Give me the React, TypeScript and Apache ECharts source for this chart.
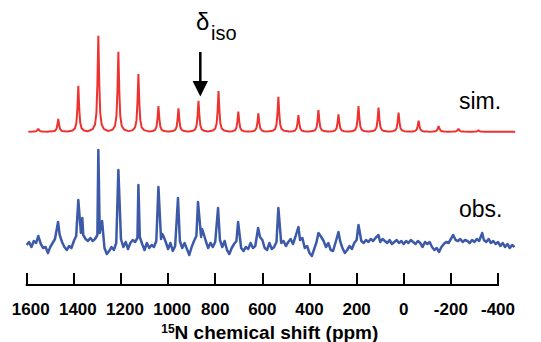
import React, { useEffect, useRef } from 'react';
import * as echarts from 'echarts';

// ---- axis ----
const xTickValues = [1600, 1400, 1200, 1000, 800, 600, 400, 200, 0, -200, -400];
const xMax = 1600;
const xAxisEnd = -400; // last tick / end of the drawn axis line
const dataXMin = -480; // spectra run a little past the last tick

// ---- simulated spectrum: spinning-sideband peak list (ppm, height) ----
const simPeakPpm = [1551, 1466, 1381, 1296, 1211, 1126, 1041, 956, 871, 786, 702, 617, 532, 447, 362, 277, 192, 107, 22, -63, -148, -232, -317];
const simPeakHeight = [3, 12.7, 46, 96, 80, 57.7, 25.7, 23.3, 31, 40.7, 20, 18.3, 35, 16.7, 21.7, 17.3, 25.7, 24, 19, 11, 5.7, 3, 1.3];
// line shape (ppm offset, fraction of peak height)
const lineShapeOffset = [40, 24, 14, 8, 4, 0, -4, -8, -14, -24, -40];
const lineShapeFraction = [0.01, 0.027, 0.075, 0.2, 0.5, 1, 0.5, 0.2, 0.075, 0.027, 0.01];
const simStartPpm = 1593;
const simEndPpm = -473;

// ---- observed spectrum ----
const obsNoiseStartPpm = 1600;
const obsNoiseStepPpm = 10;
const obsNoise = [
  0, 3, -2, 4, 2, 3, 1, -3, -2, -8,
  -2, 2, 6, 12, 10, 3, -2, -5, -1, -3,
  4, 9, 14, 12, 10, 6, 4, 7, 4, 6,
  10, 12, 8, -3, -9, -6, -2, -5, 2, 8,
  6, -2, 3, -4, 2, 5, 3, 7, 8, 1,
  -5, 2, -3, 0, -2, 4, 8, 6, 9, 3,
  -4, 2, -6, -1, 5, 4, -3, 2, -4, -10,
  -2, 4, 9, 10, 8, 12, 4, -3, 2, -2,
  3, 8, 5, -2, 4, -5, -9, -3, 1, 4,
  5, -3, -6, -2, -4, 2, -3, -1, 4, 8,
  5, -3, -5, 2, -4, -2, 3, 10, 2, 4,
  -1, 3, 6, 1, 8, 10, 5, 7, -3, -1,
  -8, -11, -4, 3, 6, 8, 4, -2, 2, -5,
  -6, 2, 6, 4, -3, -8, -5, -1, -4, 2,
  5, 8, 4, 2, 5, 3, 6, 4, 7, 5,
  3, 6, 4, 2, 5, 1, 3, 5, 2, 4,
  1, 4, 2, 5, 3, 1, 4, 2, -2, 3,
  1, 3, -2, -5, -3, -7, -2, 1, 3, 2,
  6, 8, 5, 4, 6, 3, 5, 4, 2, 5,
  3, 6, 4, 8, 5, 3, 6, 2, 4, 1,
  3, -1, 2, -2, 1, -3, 0, -2,
];
const obsPeakPpm = [1551, 1467, 1381, 1364, 1296, 1280, 1211, 1126, 1041, 1025, 958, 873, 856, 788, 703, 618, 532, 447, 362, 277, 192, 107, -210, -333];
const obsPeakHeight = [9, 23, 45, 27, 95, 24, 75, 60, 58, 11, 47, 43, 16, 37, 23, 17, 37, 18, 12, 13, 20, 10, 10, 12];

// ---- texts ----
const xAxisTitleSup = '15';
const xAxisTitle = 'N chemical shift (ppm)';
const simLabel = 'sim.';
const obsLabel = 'obs.';
const isoSymbol = 'δ';
const isoSub = 'iso';

const FONT = '"Liberation Sans", Arial, sans-serif';
const RED = '#ec3330';
const BLUE = '#3d5aa9';

// layout
const W = 541;
const H = 342;
const GRID_LEFT = 26.7;
const AXIS_RIGHT = 43; // right margin of the drawn axis line (at -400)
const GRID_TOP = 20;
const GRID_BOTTOM = 57;
const AXIS_W = W - GRID_LEFT - AXIS_RIGHT;
const GRID_RIGHT = AXIS_RIGHT - ((xAxisEnd - dataXMin) / (xMax - xAxisEnd)) * AXIS_W;
const AXIS_Y = H - GRID_BOTTOM;

function buildSim(): number[][] {
  const pts: number[][] = [[simStartPpm, 0]];
  simPeakPpm.forEach((c, i) => {
    lineShapeOffset.forEach((o, j) => {
      pts.push([c + o, simPeakHeight[i] * lineShapeFraction[j]]);
    });
  });
  pts.push([simEndPpm, 0]);
  return pts;
}

function buildObs(): number[][] {
  const pts: number[][] = [];
  obsNoise.forEach((v, i) => {
    const p = obsNoiseStartPpm - i * obsNoiseStepPpm;
    const near = obsPeakPpm.some((c) => Math.abs(c - p) < 4);
    if (!near) pts.push([p, v]);
  });
  obsPeakPpm.forEach((c, i) => pts.push([c, obsPeakHeight[i]]));
  pts.sort((a, b) => b[0] - a[0]);
  return pts;
}

export default function App() {
  const ref = useRef<HTMLDivElement>(null);
  useEffect(() => {
    if (!ref.current) return;
    const chart = echarts.init(ref.current, undefined, { renderer: 'svg' });
    chart.setOption({
      animation: false,
      backgroundColor: '#ffffff',
      grid: { left: GRID_LEFT, right: GRID_RIGHT, top: GRID_TOP, bottom: GRID_BOTTOM, containLabel: false, outerBoundsMode: 'none' },
      xAxis: {
        type: 'value',
        min: dataXMin,
        max: xMax,
        inverse: true,
        splitLine: { show: false },
        axisLine: { show: false, onZero: false },
        axisTick: { show: true, inside: true, length: 12, customValues: xTickValues, lineStyle: { color: '#000', width: 2 } },
        axisLabel: {
          customValues: xTickValues,
          margin: 16,
          color: '#000',
          fontSize: 17,
          fontWeight: 'bold',
          fontFamily: FONT,
          hideOverlap: false,
          formatter: (v: number) => (Math.abs(v) >= 1000 ? '{w|' + v + '}' : String(v)),
          rich: { w: { fontSize: 17, fontWeight: 'bold', fontFamily: FONT, color: '#000', padding: [0, 0, 0, 8] } },
        },
        name: '{sup|' + xAxisTitleSup + '}{n|' + xAxisTitle + '}',
        nameLocation: 'middle',
        nameGap: 33,
        nameTextStyle: {
          padding: [0, 4, 0, 0],
          rich: {
            sup: { fontSize: 12, fontWeight: 'bold', fontFamily: FONT, color: '#000', padding: [0, 0, 8, 0] },
            n: { fontSize: 19, fontWeight: 'bold', fontFamily: FONT, color: '#000' },
          },
        },
      },
      yAxis: [
        { type: 'value', min: -153.3, max: 111.7, show: false },
        { type: 'value', min: -40, max: 225, show: false },
      ],
      series: [
        {
          type: 'line',
          yAxisIndex: 0,
          data: buildSim(),
          symbol: 'none',
          silent: true,
          lineStyle: { color: RED, width: 2 },
        },
        {
          type: 'line',
          yAxisIndex: 1,
          data: buildObs(),
          symbol: 'none',
          silent: true,
          clip: false,
          lineStyle: { color: BLUE, width: 2.5, join: 'round' },
        },
      ],
      graphic: [
        {
          type: 'line',
          shape: { x1: GRID_LEFT - 1, y1: AXIS_Y, x2: W - AXIS_RIGHT + 1, y2: AXIS_Y },
          style: { stroke: '#000', lineWidth: 2 },
        },
        {
          type: 'text',
          left: 196,
          top: 9,
          style: { text: isoSymbol, font: '24px ' + FONT, fill: '#000' },
        },
        {
          type: 'text',
          left: 211,
          top: 23,
          style: { text: isoSub, font: '20px ' + FONT, fill: '#000' },
        },
        {
          type: 'line',
          shape: { x1: 200.3, y1: 52, x2: 200.3, y2: 84 },
          style: { stroke: '#000', lineWidth: 2.5 },
        },
        {
          type: 'polygon',
          shape: { points: [[192.6, 81], [208, 81], [200.3, 96.5]] },
          style: { fill: '#000' },
        },
        {
          type: 'text',
          left: 459,
          top: 89,
          style: { text: simLabel, font: '23px ' + FONT, fill: '#000' },
        },
        {
          type: 'text',
          left: 459,
          top: 197,
          style: { text: obsLabel, font: '23px ' + FONT, fill: '#000' },
        },
      ],
    });
    return () => chart.dispose();
  }, []);
  return <div ref={ref} style={{ position: 'fixed', left: 0, top: 0, width: W, height: H, background: '#fff' }} />;
}
